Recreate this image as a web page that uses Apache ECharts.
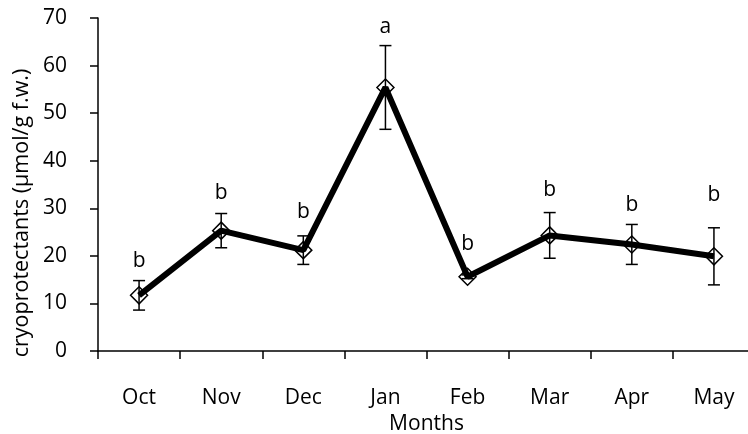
<!DOCTYPE html>
<html lang="en">
<head>
    <meta charset="UTF-8">
    <title>cryoprotectants</title>
    <script src="https://cdn.jsdelivr.net/npm/echarts@6/dist/echarts.min.js"></script>
    <style>
        html, body { margin: 0; padding: 0; background: #fff; }
        #main { width: 748px; height: 434px; }
    </style>
</head>
<body>
<div id="main"></div>
<script>
    // months along the x axis
    var months = ['Oct', 'Nov', 'Dec', 'Jan', 'Feb', 'Mar', 'Apr', 'May'];
    // mean cryoprotectant content and its error (umol/g f.w.)
    var means = [11.7, 25.3, 21.2, 55.4, 15.6, 24.3, 22.4, 19.9];
    var errors = [3.1, 3.6, 3.0, 8.8, 0.4, 4.8, 4.2, 6.0];
    // significance letters and the height they sit at
    var letters = ['b', 'b', 'b', 'a', 'b', 'b', 'b', 'b'];
    var letterAt = [19.0, 33.2, 29.2, 68.0, 22.4, 33.8, 30.7, 32.8];
    var yTicks = [0, 10, 20, 30, 40, 50, 60, 70];

    var font = 'Open Sans';
    var chart = echarts.init(document.getElementById('main'));

    var option = {
        animation: false,
        grid: { left: 98, right: -7, top: 18, bottom: 83, outerBoundsMode: 'none', containLabel: false },
        xAxis: {
            type: 'category',
            data: months,
            name: 'Months',
            nameLocation: 'middle',
            nameGap: 60,
            nameTextStyle: { color: '#000', fontSize: 21, fontFamily: font },
            axisLine: { lineStyle: { color: '#000', width: 1.5 } },
            axisTick: { show: true, length: 8, lineStyle: { color: '#000', width: 1.5 } },
            axisLabel: { color: '#000', fontSize: 21, fontFamily: font, margin: 37 },
            splitLine: { show: false }
        },
        yAxis: {
            type: 'value',
            min: yTicks[0],
            max: yTicks[yTicks.length - 1],
            interval: 10,
            axisLine: { show: true, lineStyle: { color: '#000', width: 1.5 } },
            axisTick: { show: true, length: 8, lineStyle: { color: '#000', width: 1.5 } },
            axisLabel: { color: '#000', fontSize: 21, fontFamily: font, margin: 31 },
            splitLine: { show: false }
        },
        graphic: [{
            type: 'text',
            x: 22,
            y: 213,
            rotation: Math.PI / 2,
            style: {
                text: 'cryoprotectants (µmol/g f.w.)',
                fontSize: 21.5,
                fontFamily: font,
                fill: '#000',
                align: 'center',
                verticalAlign: 'middle'
            }
        }],
        series: [
            {
                // hollow diamonds
                type: 'line',
                data: means,
                symbol: 'diamond',
                symbolSize: 17,
                showSymbol: true,
                lineStyle: { width: 0, opacity: 0 },
                itemStyle: { color: '#fff', borderColor: '#000', borderWidth: 1.5 },
                z: 2
            },
            {
                // error bars plus the significance letter above each month
                type: 'custom',
                data: means.map(function (m, i) { return [i, m - errors[i], m + errors[i], letterAt[i]]; }),
                renderItem: function (params, api) {
                    var lo = api.coord([api.value(0), api.value(1)]);
                    var hi = api.coord([api.value(0), api.value(2)]);
                    var tp = api.coord([api.value(0), api.value(3)]);
                    var cap = 6;
                    var style = { stroke: '#000', lineWidth: 1.5 };
                    return {
                        type: 'group',
                        children: [
                            { type: 'line', shape: { x1: hi[0], y1: hi[1], x2: lo[0], y2: lo[1] }, style: style },
                            { type: 'line', shape: { x1: hi[0] - cap, y1: hi[1], x2: hi[0] + cap, y2: hi[1] }, style: style },
                            { type: 'line', shape: { x1: lo[0] - cap, y1: lo[1], x2: lo[0] + cap, y2: lo[1] }, style: style },
                            {
                                type: 'text',
                                x: tp[0],
                                y: tp[1],
                                style: {
                                    text: letters[params.dataIndex],
                                    fill: '#000',
                                    fontSize: 21,
                                    fontFamily: font,
                                    align: 'center',
                                    verticalAlign: 'middle'
                                }
                            }
                        ]
                    };
                },
                z: 3
            },
            {
                // the thick connecting line
                type: 'line',
                data: means,
                showSymbol: false,
                lineStyle: { color: '#000', width: 6 },
                z: 4
            }
        ]
    };

    chart.setOption(option);
</script>
</body>
</html>
